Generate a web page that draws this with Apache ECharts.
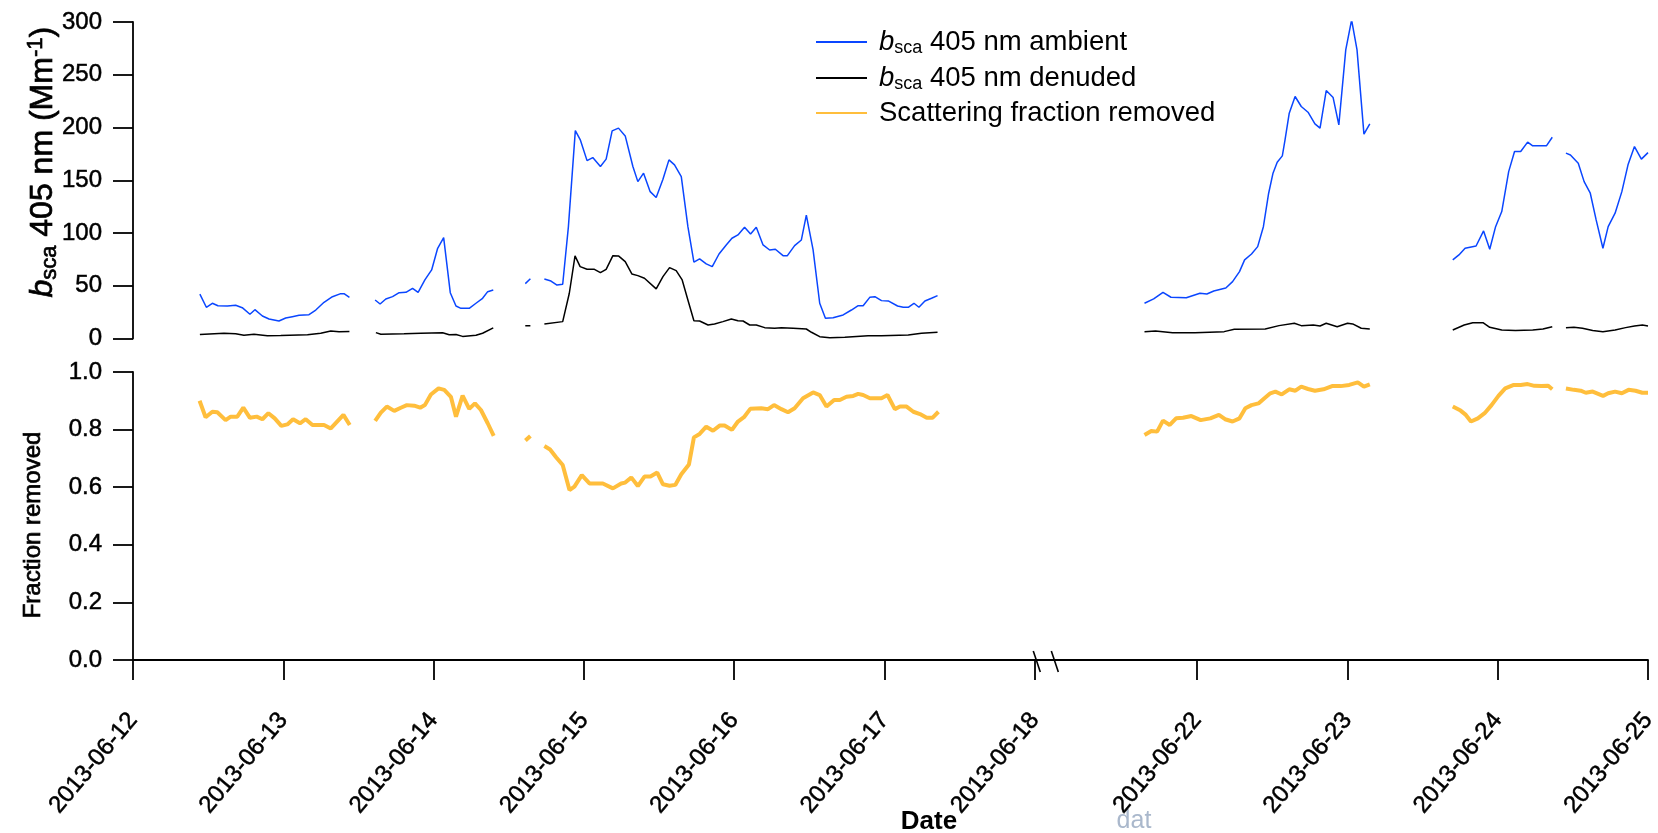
<!DOCTYPE html>
<html>
<head>
<meta charset="utf-8">
<script src="https://cdn.jsdelivr.net/npm/echarts@6/dist/echarts.min.js"></script>
<style>
  html, body { margin: 0; padding: 0; background: #fff; }
  #chart { width: 1658px; height: 833px; }
</style>
</head>
<body>
<div id="chart"></div>
<script>
// Time is given as fractional day of June 2013; null = no data (line gap).

// b_sca 405 nm, ambient (Mm^-1)
const ambientDay = [
  12.445, 12.488, 12.528, 12.565, 12.628, 12.683, 12.727, 12.778, 12.811, 12.861, 12.905, 12.971,
  13.016, 13.060, 13.105, 13.171, 13.216, 13.271, 13.327, 13.382, 13.404, 13.440, 13.52,
  13.611, 13.644, 13.682, 13.727, 13.771, 13.816, 13.860, 13.897, 13.942, 13.987, 14.027, 14.067,
  14.111, 14.149, 14.182, 14.237, 14.282, 14.326, 14.360, 14.397, 14.50,
  14.610, 14.644, 14.69,
  14.737, 14.781, 14.821, 14.859, 14.897, 14.943, 14.977, 15.021, 15.059, 15.110, 15.148, 15.188,
  15.230, 15.275, 15.326, 15.359, 15.397, 15.441, 15.481, 15.526, 15.566, 15.603, 15.648, 15.692,
  15.732, 15.770, 15.814, 15.854, 15.899, 15.947, 15.985, 16.025, 16.069, 16.109, 16.147, 16.192,
  16.236, 16.274, 16.325, 16.354, 16.402, 16.447, 16.480, 16.525, 16.569, 16.607, 16.658, 16.725,
  16.780, 16.825, 16.858, 16.902, 16.936, 16.980, 17.025, 17.087, 17.125, 17.158, 17.196, 17.229,
  17.269, 17.313, 17.353, 17.50,
  21.650, 21.711, 21.773, 21.826, 21.928, 22.019, 22.065, 22.111, 22.191, 22.236, 22.282, 22.316,
  22.362, 22.403, 22.441, 22.476, 22.505, 22.533, 22.567, 22.585, 22.613, 22.652, 22.693, 22.738,
  22.784, 22.818, 22.859, 22.905, 22.943, 22.989, 23.028, 23.064, 23.110, 23.149, 23.40,
  23.701, 23.742, 23.783, 23.856, 23.906, 23.947, 23.986, 24.027, 24.073, 24.112, 24.153, 24.199,
  24.233, 24.324, 24.363, 24.41,
  24.454, 24.484, 24.536, 24.575, 24.616, 24.655, 24.700, 24.735, 24.781, 24.826, 24.867, 24.910,
  24.956, 25.000
];
const ambientValue = [
  42.0, 29.6, 33.4, 31.0, 30.8, 31.5, 29.2, 23.0, 27.3, 21.3, 18.5, 16.6,
  19.4, 20.7, 22.0, 22.6, 27.0, 34.3, 39.6, 42.5, 42.5, 39.0, null,
  36.5, 32.7, 37.5, 39.7, 43.4, 43.8, 47.6, 43.8, 55.5, 65.0, 85.5, 95.6,
  43.4, 30.8, 28.6, 28.6, 33.4, 38.1, 44.4, 46.0, null,
  52.0, 56.7, null,
  56.4, 54.5, 50.7, 51.4, 106.0, 197.0, 188.0, 168.6, 171.5, 163.0, 170.0, 196.8,
  199.4, 192.0, 163.0, 148.7, 156.7, 139.2, 133.6, 151.0, 169.3, 164.6, 153.5, 106.0,
  72.3, 75.4, 70.7, 68.1, 80.1, 88.7, 95.0, 98.2, 105.5, 99.1, 105.5, 88.7,
  83.9, 84.6, 78.5, 78.5, 88.0, 93.4, 117.0, 84.0, 33.4, 19.2, 19.7, 22.3,
  27.0, 31.1, 31.1, 39.0, 39.6, 35.9, 35.6, 30.8, 29.6, 29.6, 33.4, 29.6,
  35.6, 38.1, 40.6, null,
  33.4, 37.5, 43.8, 39.1, 38.7, 42.9, 42.2, 45.0, 47.9, 53.9, 63.4, 74.5,
  80.1, 87.1, 106.0, 137.7, 156.7, 167.1, 173.1, 188.3, 213.6, 229.4, 219.9, 214.5,
  203.5, 199.4, 235.0, 228.4, 202.5, 273.6, 302.0, 273.6, 193.7, 203.5, null,
  74.5, 79.2, 85.5, 87.7, 102.0, 84.6, 106.0, 120.3, 158.2, 177.2, 177.2, 186.1,
  182.6, 182.6, 190.8, null,
  175.7, 174.0, 166.2, 148.7, 137.7, 112.4, 85.5, 106.0, 118.8, 139.2, 164.6, 181.9,
  170.0, 176.2
];

// b_sca 405 nm, denuded (Mm^-1)
const denudedDay = [
  12.445, 12.605, 12.683, 12.738, 12.805, 12.894, 12.983, 13.161, 13.249, 13.316, 13.371, 13.440, 13.52,
  13.616, 13.649, 13.804, 13.915, 14.060, 14.104, 14.149, 14.193, 14.282, 14.326, 14.397, 14.50,
  14.610, 14.644, 14.69,
  14.737, 14.859, 14.903, 14.941, 14.975, 15.021, 15.070, 15.110, 15.148, 15.193, 15.230, 15.275,
  15.319, 15.359, 15.403, 15.481, 15.526, 15.570, 15.614, 15.654, 15.692, 15.732, 15.770, 15.826,
  15.869, 15.925, 15.981, 16.025, 16.059, 16.103, 16.147, 16.203, 16.269, 16.314, 16.392, 16.480,
  16.514, 16.569, 16.636, 16.736, 16.891, 16.980, 17.158, 17.246, 17.353, 17.50,
  21.650, 21.723, 21.837, 21.985, 22.180, 22.247, 22.453, 22.545, 22.647, 22.693, 22.773, 22.818,
  22.859, 22.932, 23.001, 23.035, 23.092, 23.149, 23.40,
  23.701, 23.777, 23.834, 23.902, 23.947, 24.027, 24.118, 24.233, 24.301, 24.363, 24.41,
  24.454, 24.507, 24.564, 24.632, 24.700, 24.781, 24.851, 24.910, 24.963, 25.000
];
const denudedValue = [
  3.9, 5.0, 4.6, 3.0, 4.0, 2.5, 2.8, 3.5, 5.0, 7.2, 6.3, 6.6, null,
  5.6, 4.0, 4.5, 5.0, 5.5, 3.5, 3.8, 2.0, 3.0, 5.0, 10.0, null,
  12.0, 12.0, null,
  13.8, 16.0, 42.9, 78.3, 68.1, 65.6, 65.6, 62.4, 65.6, 78.5, 78.3, 72.9,
  61.2, 59.6, 57.1, 47.0, 58.6, 67.2, 64.3, 55.5, 36.5, 16.9, 16.6, 12.8,
  13.8, 16.0, 18.5, 16.9, 16.6, 12.8, 12.8, 10.3, 9.7, 10.3, 9.7, 9.0,
  5.9, 1.7, 0.8, 1.1, 2.7, 2.7, 3.3, 4.9, 5.9, null,
  6.5, 7.1, 5.5, 5.5, 6.5, 8.7, 9.0, 12.2, 14.4, 12.2, 12.8, 11.9,
  14.4, 11.2, 14.4, 13.8, 9.7, 9.0, null,
  8.1, 12.8, 15.0, 15.0, 10.6, 8.1, 7.5, 8.1, 9.0, 11.2, null,
  10.3, 10.6, 9.7, 7.5, 6.5, 8.1, 10.3, 11.9, 12.8, 11.9
];

// Scattering fraction removed by the denuder
const fractionDay = [
  12.443, 12.483, 12.528, 12.561, 12.616, 12.650, 12.694, 12.734, 12.778, 12.823, 12.861, 12.901,
  12.943, 12.987, 13.027, 13.065, 13.111, 13.149, 13.194, 13.271, 13.316, 13.400, 13.442, 13.52,
  13.611, 13.649, 13.689, 13.738, 13.782, 13.822, 13.871, 13.911, 13.942, 13.982, 14.033, 14.071,
  14.115, 14.149, 14.193, 14.237, 14.275, 14.315, 14.360, 14.400, 14.50,
  14.611, 14.644, 14.69,
  14.737, 14.775, 14.815, 14.859, 14.904, 14.937, 14.986, 15.037, 15.126, 15.193, 15.248, 15.275,
  15.315, 15.359, 15.403, 15.443, 15.488, 15.526, 15.570, 15.608, 15.648, 15.699, 15.732, 15.770,
  15.814, 15.859, 15.903, 15.936, 15.985, 16.025, 16.065, 16.107, 16.180, 16.225, 16.265, 16.314,
  16.358, 16.402, 16.458, 16.525, 16.569, 16.614, 16.665, 16.703, 16.747, 16.792, 16.825, 16.858,
  16.903, 16.980, 17.020, 17.069, 17.103, 17.147, 17.192, 17.236, 17.281, 17.319, 17.359, 17.50,
  21.650, 21.695, 21.734, 21.773, 21.818, 21.860, 21.906, 21.962, 22.024, 22.088, 22.145, 22.186,
  22.236, 22.282, 22.321, 22.362, 22.408, 22.448, 22.487, 22.521, 22.563, 22.613, 22.654, 22.693,
  22.738, 22.784, 22.841, 22.898, 22.955, 23.012, 23.069, 23.110, 23.149, 23.40,
  23.701, 23.753, 23.788, 23.822, 23.868, 23.913, 23.959, 24.005, 24.050, 24.107, 24.153, 24.199,
  24.244, 24.290, 24.336, 24.363, 24.41,
  24.454, 24.507, 24.552, 24.586, 24.632, 24.701, 24.735, 24.781, 24.826, 24.871, 24.917, 24.962,
  25.000
];
const fractionValue = [
  0.900, 0.843, 0.862, 0.860, 0.833, 0.845, 0.845, 0.876, 0.841, 0.845, 0.836, 0.857,
  0.839, 0.813, 0.818, 0.836, 0.822, 0.836, 0.816, 0.816, 0.804, 0.851, 0.816, null,
  0.830, 0.859, 0.880, 0.865, 0.876, 0.885, 0.883, 0.876, 0.885, 0.922, 0.943, 0.938,
  0.914, 0.845, 0.918, 0.872, 0.891, 0.868, 0.822, 0.778, null,
  0.762, 0.778, null,
  0.743, 0.731, 0.704, 0.677, 0.590, 0.602, 0.642, 0.613, 0.613, 0.596, 0.613, 0.616,
  0.634, 0.604, 0.637, 0.637, 0.651, 0.610, 0.605, 0.608, 0.645, 0.679, 0.773, 0.785,
  0.810, 0.796, 0.814, 0.814, 0.799, 0.828, 0.843, 0.872, 0.874, 0.871, 0.885, 0.871,
  0.860, 0.874, 0.909, 0.929, 0.920, 0.880, 0.903, 0.903, 0.914, 0.917, 0.924, 0.920,
  0.909, 0.909, 0.920, 0.871, 0.880, 0.880, 0.862, 0.854, 0.841, 0.841, 0.862, null,
  0.781, 0.795, 0.793, 0.831, 0.816, 0.839, 0.841, 0.847, 0.833, 0.839, 0.851, 0.836,
  0.828, 0.839, 0.874, 0.885, 0.891, 0.909, 0.926, 0.932, 0.922, 0.940, 0.935, 0.949,
  0.941, 0.935, 0.940, 0.951, 0.951, 0.955, 0.964, 0.949, 0.957, null,
  0.880, 0.866, 0.851, 0.828, 0.839, 0.857, 0.885, 0.917, 0.943, 0.955, 0.955, 0.958,
  0.952, 0.951, 0.952, 0.940, null,
  0.943, 0.938, 0.935, 0.928, 0.932, 0.917, 0.926, 0.932, 0.926, 0.938, 0.935, 0.928,
  0.928
];

// Labelled days on the shared date axis
const dateTicks = [12, 13, 14, 15, 16, 17, 18, 22, 23, 24, 25];

// The date axis is cut between 18 June and 22 June
const CUT_AT = 18, RESUME_AT = 22, CUT_WIDTH = 1.08;
const axisPos = d => (d <= CUT_AT ? d : d - RESUME_AT + CUT_AT + CUT_WIDTH);
const dayAt = p => (p <= CUT_AT + 1e-6 ? p : p - CUT_AT - CUT_WIDTH + RESUME_AT);
const X_MIN = axisPos(dateTicks[0]);
const X_MAX = axisPos(dateTicks[dateTicks.length - 1]);

const toSeries = (days, vals) => days.map((d, i) => [axisPos(d), vals[i] === null ? '-' : vals[i]]);

const FONT = 'Liberation Sans, Arial, sans-serif';
const BLUE = '#0a46ff';
const ORANGE = '#ffbe3c';

// slightly heavier strokes for axis text
const heavy = { textBorderColor: '#000', textBorderWidth: 0.7 };

const legendRich = {
  g: { width: 7, lineHeight: 30 },
  b: { fontFamily: FONT, fontSize: 27.5, fontStyle: 'italic', color: '#000', lineHeight: 30, verticalAlign: 'middle' },
  s: { fontFamily: FONT, fontSize: 18, color: '#000', lineHeight: 30, verticalAlign: 'bottom', padding: [12, 0, 0, 0] },
  t: { fontFamily: FONT, fontSize: 27.5, color: '#000', lineHeight: 30, verticalAlign: 'middle' }
};
const legendText = {
  ambient: '{g|}{b|b}{s|sca}{t| 405 nm ambient}',
  denuded: '{g|}{b|b}{s|sca}{t| 405 nm denuded}',
  fraction: '{g|}{t|Scattering fraction removed}'
};

const chart = echarts.init(document.getElementById('chart'), null, { renderer: 'canvas' });

const axisLineStyle = { color: '#000', width: 1.8 };
const tickLabelStyle = { fontFamily: FONT, fontSize: 24, color: '#000', ...heavy, textBorderWidth: 0.5 };

chart.setOption({
  animation: false,
  backgroundColor: '#fff',
  grid: [
    { left: 133, right: 10, top: 22, height: 316.5, containLabel: false, outerBoundsMode: 'none' },
    { left: 133, right: 10, top: 372, height: 288, containLabel: false, outerBoundsMode: 'none' }
  ],
  legend: {
    orient: 'vertical',
    left: 810,
    top: 22,
    itemWidth: 51,
    itemHeight: 14,
    itemGap: 6,
    itemStyle: { opacity: 0 },
    data: ['ambient', 'denuded', 'fraction'],
    formatter: name => legendText[name],
    textStyle: { fontFamily: FONT, fontSize: 27.5, color: '#000', rich: legendRich }
  },
  xAxis: [
    {
      gridIndex: 0, type: 'value', min: X_MIN, max: X_MAX,
      show: false
    },
    {
      gridIndex: 1, type: 'value', min: X_MIN, max: X_MAX,
      name: 'Date',
      nameLocation: 'middle',
      nameGap: 149,
      nameMoveOverlap: false,
      nameTextStyle: { fontFamily: FONT, fontSize: 26, fontWeight: 'bold', color: '#000', padding: [0, 0, 0, 77] },
      axisLine: { show: true, onZero: false, lineStyle: axisLineStyle },
      axisTick: { show: true, inside: false, length: 20, lineStyle: axisLineStyle, customValues: dateTicks.map(axisPos) },
      axisLabel: {
        ...tickLabelStyle,
        rotate: 50,
        margin: 56,
        customValues: dateTicks.map(axisPos),
        formatter: v => '2013-06-' + String(Math.round(dayAt(v))).padStart(2, '0')
      },
      splitLine: { show: false }
    }
  ],
  yAxis: [
    {
      gridIndex: 0, type: 'value', min: 0, max: 300, interval: 50,
      name: '{b|b}{s|sca}{t| 405 nm (Mm}{p|-1}{t|)}',
      nameLocation: 'middle',
      nameRotate: 90,
      nameGap: 72,
      nameMoveOverlap: false,
      nameTextStyle: {
        padding: [0, 0, 0, 36],
        rich: {
          b: { fontFamily: FONT, fontSize: 32, fontStyle: 'italic', color: '#000', lineHeight: 36, verticalAlign: 'middle', ...heavy },
          s: { fontFamily: FONT, fontSize: 22, color: '#000', lineHeight: 36, verticalAlign: 'bottom', padding: [15, 0, 0, 0], ...heavy },
          t: { fontFamily: FONT, fontSize: 32, color: '#000', lineHeight: 36, verticalAlign: 'middle', ...heavy },
          p: { fontFamily: FONT, fontSize: 22, color: '#000', lineHeight: 36, verticalAlign: 'top', padding: [0, 0, 15, 0], ...heavy }
        }
      },
      axisLine: { show: true, lineStyle: axisLineStyle },
      axisTick: { show: true, inside: false, length: 20, lineStyle: axisLineStyle },
      axisLabel: { ...tickLabelStyle, margin: 31 },
      splitLine: { show: false }
    },
    {
      gridIndex: 1, type: 'value', min: 0, max: 1, interval: 0.2,
      name: 'Fraction removed',
      nameLocation: 'middle',
      nameRotate: 90,
      nameGap: 88,
      nameMoveOverlap: false,
      nameTextStyle: { fontFamily: FONT, fontSize: 24, color: '#000', padding: [0, 18, 0, 0], ...heavy },
      axisLine: { show: true, lineStyle: axisLineStyle },
      axisTick: { show: true, inside: false, length: 20, lineStyle: axisLineStyle },
      axisLabel: { ...tickLabelStyle, margin: 31, formatter: v => v.toFixed(1) },
      splitLine: { show: false }
    }
  ],
  series: [
    {
      name: 'ambient', type: 'line', xAxisIndex: 0, yAxisIndex: 0,
      data: toSeries(ambientDay, ambientValue),
      showSymbol: false, symbol: 'none', connectNulls: false,
      lineStyle: { color: BLUE, width: 1.5 }, itemStyle: { color: BLUE }
    },
    {
      name: 'denuded', type: 'line', xAxisIndex: 0, yAxisIndex: 0,
      data: toSeries(denudedDay, denudedValue),
      showSymbol: false, symbol: 'none', connectNulls: false,
      lineStyle: { color: '#000', width: 1.5 }, itemStyle: { color: '#000' }
    },
    {
      name: 'fraction', type: 'line', xAxisIndex: 1, yAxisIndex: 1,
      data: toSeries(fractionDay, fractionValue),
      showSymbol: false, symbol: 'none', connectNulls: false,
      lineStyle: { color: ORANGE, width: 4 }, itemStyle: { color: ORANGE }
    }
  ]
});

// Axis cut marks "\\" just after 18 June, plus the stray caption under the axis
const cutY = chart.convertToPixel({ yAxisIndex: 1 }, 0);
const cutMarks = [CUT_AT + 0.01, CUT_AT + 0.13].map(p => {
  const x = chart.convertToPixel({ xAxisIndex: 1 }, p);
  return {
    type: 'line',
    shape: { x1: x - 3, y1: cutY - 9, x2: x + 4, y2: cutY + 12 },
    style: { stroke: '#000', lineWidth: 1.6 },
    z: 10
  };
});
chart.setOption({
  graphic: cutMarks.concat([{
    type: 'text',
    style: { text: 'dat', x: 1134, y: 821, align: 'center', verticalAlign: 'middle', font: '25px ' + FONT, fill: '#aab8cc' }
  }])
});
</script>
</body>
</html>
